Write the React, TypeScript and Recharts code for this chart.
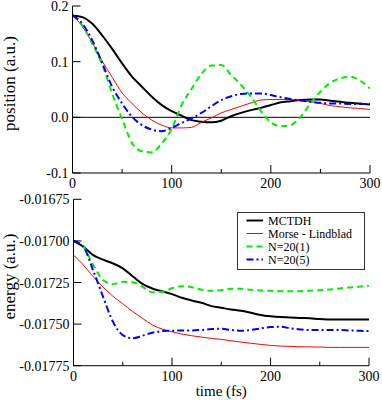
import React from 'react';
import { LineChart, Line, XAxis, YAxis, ReferenceLine, Legend } from 'recharts';

const times = [0, 10, 20, 30, 40, 50, 60, 70, 80, 90, 100, 110, 120, 130, 140, 150, 160, 170, 180, 190, 200, 210, 220, 230, 240, 250, 260, 270, 280, 290, 300];

const seriesNames = ['MCTDH', 'Morse - Lindblad', 'N=20(1)', 'N=20(5)'];

const posMCTDH = [0.183, 0.180, 0.168, 0.147, 0.123, 0.097, 0.073, 0.055, 0.037, 0.022, 0.011, 0.003, -0.005, -0.008, -0.009, -0.006, 0.002, 0.008, 0.013, 0.017, 0.022, 0.027, 0.029, 0.031, 0.032, 0.032, 0.030, 0.028, 0.026, 0.025, 0.023];
const posMorse = [0.183, 0.163, 0.134, 0.101, 0.072, 0.044, 0.025, 0.008, -0.005, -0.014, -0.019, -0.019, -0.018, -0.009, -0.001, 0.008, 0.014, 0.020, 0.026, 0.031, 0.032, 0.032, 0.032, 0.030, 0.028, 0.025, 0.021, 0.019, 0.017, 0.016, 0.014];
const posN1 = [0.183, 0.165, 0.132, 0.095, 0.043, -0.003, -0.046, -0.061, -0.063, -0.047, -0.021, 0.022, 0.051, 0.078, 0.093, 0.094, 0.076, 0.058, 0.037, 0.011, -0.009, -0.016, -0.014, 0.001, 0.025, 0.046, 0.062, 0.070, 0.073, 0.066, 0.052];
const posN5 = [0.183, 0.168, 0.138, 0.097, 0.055, 0.025, 0.001, -0.014, -0.022, -0.025, -0.019, -0.010, -0.002, 0.008, 0.020, 0.031, 0.038, 0.042, 0.043, 0.043, 0.040, 0.036, 0.033, 0.030, 0.028, 0.026, 0.025, 0.025, 0.024, 0.024, 0.024];

const enMCTDH = [-0.01700, -0.017035, -0.017085, -0.017113, -0.017135, -0.017165, -0.017212, -0.017258, -0.017286, -0.017303, -0.017320, -0.017342, -0.017358, -0.017372, -0.017392, -0.017402, -0.017412, -0.017420, -0.017432, -0.017445, -0.017453, -0.017458, -0.017460, -0.017463, -0.017465, -0.017470, -0.017472, -0.017473, -0.017473, -0.017473, -0.017473];
const enMorse = [-0.017085, -0.017145, -0.017215, -0.017278, -0.017332, -0.017378, -0.017424, -0.017465, -0.017505, -0.017530, -0.017546, -0.017560, -0.017570, -0.017578, -0.017586, -0.017592, -0.017600, -0.017608, -0.017615, -0.017622, -0.017628, -0.017632, -0.017634, -0.017636, -0.017637, -0.017638, -0.017640, -0.017640, -0.017640, -0.017640, -0.017640];
const enN1 = [-0.01700, -0.017035, -0.017145, -0.017235, -0.017260, -0.017246, -0.017248, -0.017276, -0.017308, -0.017306, -0.017285, -0.017272, -0.017278, -0.017294, -0.017300, -0.017296, -0.017288, -0.017288, -0.017294, -0.017298, -0.017300, -0.017302, -0.017302, -0.017302, -0.017300, -0.017296, -0.017292, -0.017286, -0.017280, -0.017275, -0.017270];
const enN5 = [-0.01700, -0.017035, -0.017178, -0.017336, -0.017485, -0.017566, -0.017585, -0.017570, -0.017552, -0.017542, -0.017540, -0.017538, -0.017538, -0.017535, -0.017530, -0.017528, -0.017535, -0.017540, -0.017535, -0.017526, -0.017518, -0.017516, -0.017525, -0.017532, -0.017536, -0.017536, -0.017536, -0.017536, -0.017538, -0.017540, -0.017542];

const xTicks = [0, 50, 100, 150, 200, 250, 300];
const xTickLabels = ['0', '', '100', '', '200', '', '300'];
const posTicks = [-0.1, 0, 0.1, 0.2];
const posTickLabels = ['-0.1', '0.0', '0.1', '0.2'];
const enTicks = [-0.01775, -0.0175, -0.01725, -0.017, -0.01675];
const enTickLabels = ['-0.01775', '-0.01750', '-0.01725', '-0.01700', '-0.01675'];

const topData = times.map((t, i) => ({ t, a: posMCTDH[i], b: posMorse[i], c: posN1[i], d: posN5[i] }));
const botData = times.map((t, i) => ({ t, a: enMCTDH[i], b: enMorse[i], c: enN1[i], d: enN5[i] }));

const FONT = 'Liberation Serif, Tinos, Times New Roman, DejaVu Serif, serif';
const MAJOR = 8;
const MINOR = 4;
const FRAME = '#000';

const styles = [
  { key: 'a', color: '#000000', width: 2, dash: undefined as string | undefined },
  { key: 'b', color: '#ff0000', width: 1, dash: undefined as string | undefined },
  { key: 'c', color: '#00ee00', width: 2, dash: '6 4' },
  { key: 'd', color: '#0000ff', width: 2, dash: '7 3 2 3' },
];

function labelFor(v: number, ticks: number[], labels: string[]) {
  const i = ticks.findIndex((x) => Math.abs(x - v) < 1e-9);
  return i >= 0 ? labels[i] : '';
}

const textStyle = { fontFamily: FONT };

function BottomTick(props: any) {
  const { x, y, payload } = props;
  const lab = labelFor(payload.value, xTicks, xTickLabels);
  const len = lab ? MAJOR : MINOR;
  return (
    <g>
      <line x1={x} y1={y} x2={x} y2={y - len} stroke={FRAME} strokeWidth={1} />
      {lab && (
        <text x={x} y={y + 15} textAnchor="middle" fontSize={14} style={textStyle} fill="#000">
          {lab}
        </text>
      )}
    </g>
  );
}

function TopTick(props: any) {
  const { x, y, payload } = props;
  const lab = labelFor(payload.value, xTicks, xTickLabels);
  const len = lab ? MAJOR : MINOR;
  return <line x1={x} y1={y} x2={x} y2={y + len} stroke={FRAME} strokeWidth={1} />;
}

function makeLeftTick(ticks: number[], labels: string[]) {
  return function LeftTick(props: any) {
    const { x, y, payload } = props;
    const lab = labelFor(payload.value, ticks, labels);
    return (
      <g>
        <line x1={x} y1={y} x2={x + MAJOR} y2={y} stroke={FRAME} strokeWidth={1} />
        <text x={x - 4} y={y + 5} textAnchor="end" fontSize={14} style={textStyle} fill="#000">
          {lab}
        </text>
      </g>
    );
  };
}

function RightTick(props: any) {
  const { x, y } = props;
  return <line x1={x} y1={y} x2={x - MAJOR} y2={y} stroke={FRAME} strokeWidth={1} />;
}

function RotLabel(props: any) {
  const { viewBox, text } = props;
  const cy = viewBox.y + viewBox.height / 2 - 6;
  const cx = 15;
  return (
    <text x={cx} y={cy} transform={`rotate(-90 ${cx} ${cy})`} textAnchor="middle" fontSize={17} style={textStyle} fill="#000">
      {text}
    </text>
  );
}

function XLabel(props: any) {
  const { viewBox, text } = props;
  return (
    <text x={viewBox.x + viewBox.width / 2} y={viewBox.y + 30.5} textAnchor="middle" fontSize={15} style={textStyle} fill="#000">
      {text}
    </text>
  );
}

function LegendBox(props: any) {
  const payload: any[] = props.payload || [];
  return (
    <svg width={128} height={58} style={{ display: 'block' }}>
      <rect x={0.5} y={0.5} width={127} height={57} fill="#fff" stroke="#333" strokeWidth={1} />
      {payload.map((p, i) => {
        const st = styles.find((s) => s.key === p.dataKey) || styles[i];
        const cy = 8.5 + i * 13;
        return (
          <g key={i}>
            <line x1={9.5} y1={cy} x2={26} y2={cy} stroke={st.color} strokeWidth={st.width} strokeDasharray={st.dash} />
            <text x={31} y={cy + 4} fontSize={12} style={textStyle} fill="#000">
              {p.value}
            </text>
          </g>
        );
      })}
    </svg>
  );
}

function renderLines() {
  return styles.map((s, i) => (
    <Line
      key={s.key}
      type="monotone"
      dataKey={s.key}
      name={seriesNames[i]}
      stroke={s.color}
      strokeWidth={s.width}
      strokeDasharray={s.dash}
      dot={false}
      activeDot={false}
      isAnimationActive={false}
    />
  ));
}

export default function App() {
  const PosLeftTick = makeLeftTick(posTicks, posTickLabels);
  const EnLeftTick = makeLeftTick(enTicks, enTickLabels);
  return (
    <div style={{ position: 'absolute', left: 0, top: 0, width: 382, height: 400, background: '#fff', fontFamily: FONT }}>
      <div style={{ width: 382, height: 190 }}>
        <LineChart width={382} height={190} data={topData} margin={{ top: 6, right: 12, bottom: 0, left: 0 }}>
          <XAxis
            dataKey="t"
            type="number"
            domain={[0, 300]}
            ticks={xTicks}
            interval={0}
            allowDataOverflow
            height={17}
            tickSize={0}
            tickMargin={0}
            tick={<BottomTick />}
            axisLine={{ stroke: FRAME }}
            tickLine={false}
          />
          <XAxis
            xAxisId="top"
            orientation="top"
            dataKey="t"
            type="number"
            domain={[0, 300]}
            ticks={xTicks}
            interval={0}
            allowDataOverflow
            height={0}
            tickSize={0}
            tickMargin={0}
            tick={<TopTick />}
            axisLine={{ stroke: FRAME }}
            tickLine={false}
          />
          <YAxis
            type="number"
            domain={[-0.1, 0.2]}
            ticks={posTicks}
            interval={0}
            allowDataOverflow
            width={72.5}
            tickSize={0}
            tickMargin={0}
            tick={<PosLeftTick />}
            axisLine={{ stroke: FRAME }}
            tickLine={false}
            label={<RotLabel text="position (a.u.)" />}
          />
          <YAxis
            yAxisId="right"
            orientation="right"
            type="number"
            domain={[-0.1, 0.2]}
            ticks={posTicks}
            interval={0}
            allowDataOverflow
            width={0}
            tickSize={0}
            tickMargin={0}
            tick={<RightTick />}
            axisLine={{ stroke: FRAME }}
            tickLine={false}
          />
          <ReferenceLine y={0} stroke="#000" strokeWidth={1} />
          {renderLines()}
        </LineChart>
      </div>
      <div style={{ width: 382, height: 210 }}>
        <LineChart width={382} height={210} data={botData} margin={{ top: 9.3, right: 13, bottom: 0, left: 0 }}>
          <XAxis
            dataKey="t"
            type="number"
            domain={[0, 300]}
            ticks={xTicks}
            interval={0}
            allowDataOverflow
            height={34.3}
            tickSize={0}
            tickMargin={0}
            tick={<BottomTick />}
            axisLine={{ stroke: FRAME }}
            tickLine={false}
            label={<XLabel text="time (fs)" />}
          />
          <XAxis
            xAxisId="top"
            orientation="top"
            dataKey="t"
            type="number"
            domain={[0, 300]}
            ticks={xTicks}
            interval={0}
            allowDataOverflow
            height={0}
            tickSize={0}
            tickMargin={0}
            tick={<TopTick />}
            axisLine={{ stroke: FRAME }}
            tickLine={false}
          />
          <YAxis
            type="number"
            domain={[-0.01775, -0.01675]}
            ticks={enTicks}
            interval={0}
            allowDataOverflow
            width={73.5}
            tickSize={0}
            tickMargin={0}
            tick={<EnLeftTick />}
            axisLine={{ stroke: FRAME }}
            tickLine={false}
            label={<RotLabel text="energy (a.u.)" />}
          />
          <YAxis
            yAxisId="right"
            orientation="right"
            type="number"
            domain={[-0.01775, -0.01675]}
            ticks={enTicks}
            interval={0}
            allowDataOverflow
            width={0}
            tickSize={0}
            tickMargin={0}
            tick={<RightTick />}
            axisLine={{ stroke: FRAME }}
            tickLine={false}
          />
          {renderLines()}
          <Legend
            layout="vertical"
            align="center"
            verticalAlign="middle"
            content={<LegendBox />}
            wrapperStyle={{ position: 'absolute', left: 237, top: 21.7, width: 128, height: 58, margin: 0, padding: 0 }}
          />
        </LineChart>
      </div>
    </div>
  );
}
